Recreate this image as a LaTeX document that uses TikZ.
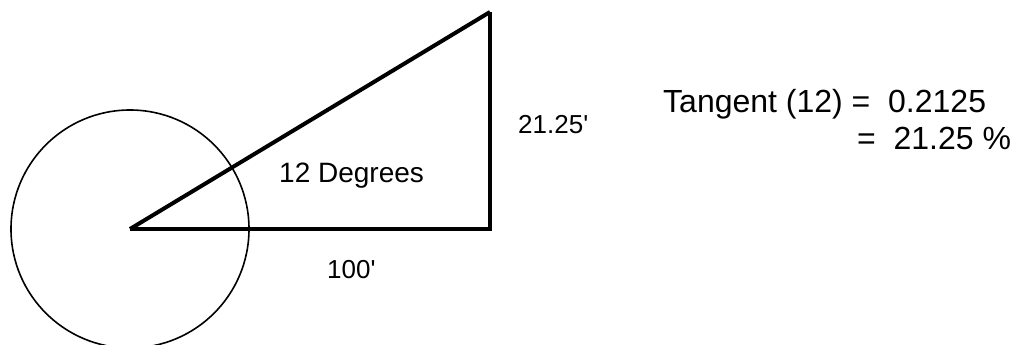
\documentclass[tikz,border=0pt]{standalone}
\usepackage{fontspec}
\setmainfont{Liberation Sans}
\usetikzlibrary{positioning, calc}
\tikzset{
    side/.style = {line width=4pt, line join=miter},
    ring/.style = {line width=1.6pt},
    lbl/.style = {inner sep=0pt, anchor=base west},
    small/.style = {lbl, font=\fontsize{26}{30}\selectfont},
    big/.style = {lbl, font=\fontsize{32}{38}\selectfont}
}
\newcommand{\ft}{\textquotesingle}

\begin{document}
\begin{tikzpicture}[x=1pt, y=-1pt]
    \useasboundingbox (0,0) rectangle (1015,345);
    \clip (0,0) rectangle (1015,345);

    \coordinate (o) at (130,229);
    \coordinate (b) at (490,229);
    \coordinate (t) at (490,12);

    \draw[ring] (o) circle[radius=119];
    \draw[side] (o) -- (b) -- (t);
    \draw[side] (t) -- (o);

    \node[lbl, font=\fontsize{28}{32}\selectfont] (ang) at (279,182) {12 Degrees};
    \node[small] (run) at (327,278) {100\ft};
    \node[small] (rise) at (518,133) {21.25\ft};

    \node[big] (tan) at (663,112) {Tangent (12) =\ \ 0.2125};
    \node[big] (pct) at (857,149) {=\ \ 21.25 \%};
\end{tikzpicture}
\end{document}
